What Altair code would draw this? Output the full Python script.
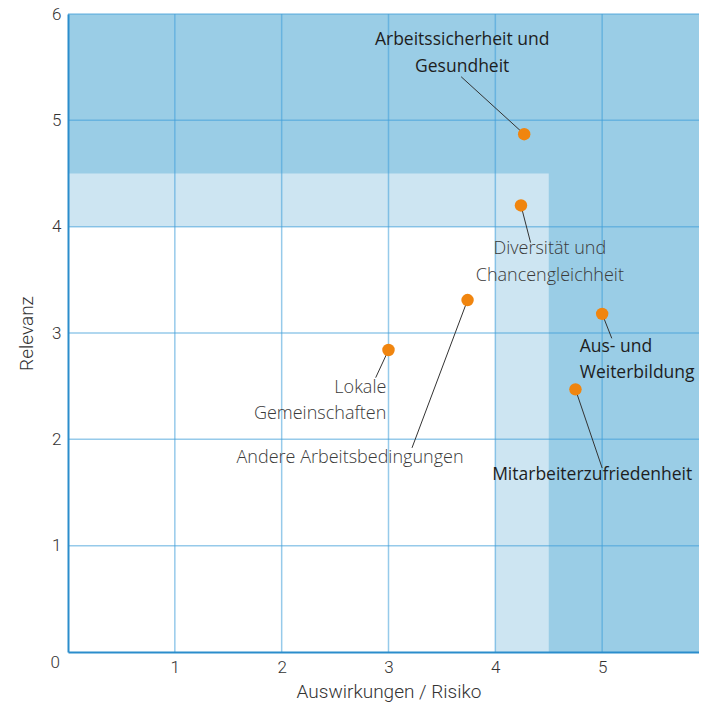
import altair as alt
import pandas as pd

# Topics and their (impact, relevance) scores
topics = ["Arbeitssicherheit und Gesundheit", "Diversität und Chancengleichheit",
          "Aus- und Weiterbildung", "Mitarbeiterzufriedenheit",
          "Andere Arbeitsbedingungen", "Lokale Gemeinschaften"]
impact = [4.27, 4.24, 5.0, 4.75, 3.74, 3.0]
relevance = [4.87, 4.2, 3.18, 2.47, 3.31, 2.84]
# leader line ends (data units)
lead_x = [3.68, 4.33, 5.09, 5.0, 3.22, 2.88]
lead_y = [5.41, 3.85, 2.95, 1.73, 1.92, 2.58]

# label lines
lab_text = ["Arbeitssicherheit und", "Gesundheit", "Diversität und", "Chancengleichheit",
            "Aus- und", "Weiterbildung", "Mitarbeiterzufriedenheit",
            "Andere Arbeitsbedingungen", "Lokale", "Gemeinschaften"]
lab_x = [3.69, 3.69, 4.51, 4.51, 4.79, 4.79, 3.97, 2.64, 2.98, 2.98]
lab_y = [5.76, 5.50, 3.79, 3.54, 2.87, 2.62, 1.66, 1.82, 2.48, 2.24]
lab_align = ["center", "center", "center", "center", "left", "left", "left", "center", "right", "right"]
lab_strong = [True, True, False, False, True, True, True, False, False, False]

# zones
zone_x0 = [0, 0, 0]
zone_x1 = [6, 4.5, 4]
zone_y0 = [0, 0, 0]
zone_y1 = [6, 4.5, 4]
zone_color = ["#9acde6", "#cde5f2", "#ffffff"]

ticks = [1, 2, 3, 4, 5, 6]

W, H = 641, 638

pts = pd.DataFrame({"topic": topics, "x": impact, "y": relevance, "lx": lead_x, "ly": lead_y})
labs = pd.DataFrame({"t": lab_text, "x": lab_x, "y": lab_y, "al": lab_align, "strong": lab_strong})
zones = pd.DataFrame({"x0": zone_x0, "x1": zone_x1, "y0": zone_y0, "y1": zone_y1, "c": zone_color})
tk = pd.DataFrame({"v": ticks})
origin = pd.DataFrame({"x": [0], "y": [0], "t": ["0"]})

xs = alt.Scale(domain=[0, 6], nice=False)
ys = alt.Scale(domain=[0, 6], nice=False)

axis_common = dict(grid=False, ticks=False, domainColor="#2b8dcc", domainWidth=2,
                   labelFont="Roboto", labelFontSize=17, labelFontWeight=300,
                   labelColor="#333333", titleFont="Roboto", titleFontSize=19,
                   titleFontWeight=300, titleColor="#333333", zindex=1, format="d")

xax = alt.Axis(values=ticks, title="Auswirkungen / Risiko", labelPadding=7, titlePadding=7,
               **axis_common)
yax = alt.Axis(values=ticks, title="Relevanz", labelPadding=7, titlePadding=15, **axis_common)

zone_layer = alt.Chart(zones).mark_rect().encode(
    x=alt.X("x0:Q", scale=xs, axis=xax), x2="x1:Q",
    y=alt.Y("y0:Q", scale=ys, axis=yax), y2="y1:Q",
    color=alt.Color("c:N", scale=None),
)

vgrid = alt.Chart(tk).mark_rule(color="#3f9fd8", opacity=0.55, strokeWidth=1.5).encode(
    x=alt.X("v:Q", scale=xs), y=alt.value(0), y2=alt.value(H))
hgrid = alt.Chart(tk).mark_rule(color="#3f9fd8", opacity=0.55, strokeWidth=1.5).encode(
    y=alt.Y("v:Q", scale=ys), x=alt.value(0), x2=alt.value(W + 5))

leaders = alt.Chart(pts).mark_rule(color="#333333", strokeWidth=1).encode(
    x=alt.X("x:Q", scale=xs), y=alt.Y("y:Q", scale=ys), x2="lx:Q", y2="ly:Q")

dots = alt.Chart(pts).mark_circle(size=155, opacity=1, color="#f0850f").encode(
    x=alt.X("x:Q", scale=xs), y=alt.Y("y:Q", scale=ys), tooltip="topic:N")

def label_layer(strong, align):
    d = labs[(labs["strong"] == strong) & (labs["al"] == align)]
    return alt.Chart(d).mark_text(
        align=align, baseline="middle", font="Open Sans",
        fontSize=17.5 if strong else 18,
        fontWeight=500 if strong else 300,
        color="#1e1e1e" if strong else "#3a3a3a",
    ).encode(x=alt.X("x:Q", scale=xs), y=alt.Y("y:Q", scale=ys), text="t:N")

label_layers = [label_layer(s, a) for s in [True, False] for a in ["left", "center", "right"]
                if len(labs[(labs["strong"] == s) & (labs["al"] == a)])]

zero = alt.Chart(origin).mark_text(
    font="Roboto", fontSize=17, fontWeight=300, color="#333333",
    align="right", baseline="middle", dx=-8, dy=11,
).encode(x=alt.X("x:Q", scale=xs), y=alt.Y("y:Q", scale=ys), text="t:N")

chart = alt.layer(zone_layer, vgrid, hgrid, leaders, dots, *label_layers, zero).properties(
    width=W, height=H,
    autosize=alt.AutoSizeParams(type="none"),
    padding={"left": 60, "top": 6, "right": -10, "bottom": 51},
).configure_view(stroke=None)

chart.save("out.html", embed_options={"renderer": "svg", "actions": False})
